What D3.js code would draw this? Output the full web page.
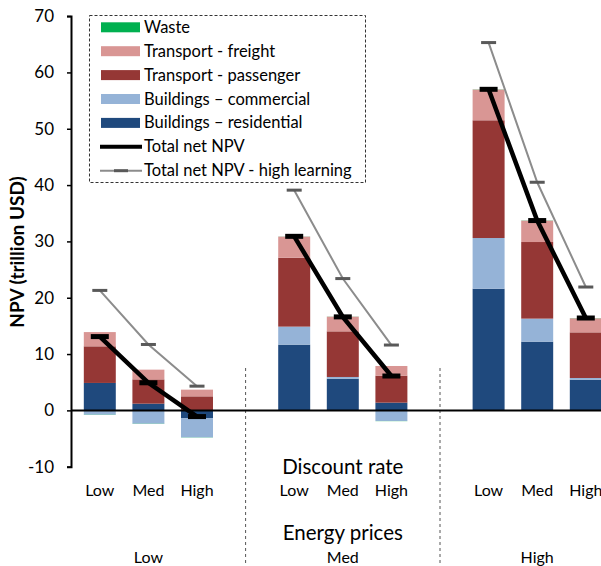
<!DOCTYPE html>
<html>
<head>
<meta charset="utf-8">
<script src="https://cdn.jsdelivr.net/npm/d3@7"></script>
<style>
  body { margin: 0; background: #fff; }
  svg { display: block; font-family: Lato, "Open Sans", sans-serif; }
</style>
</head>
<body>
<svg id="chart" width="601" height="566"></svg>
<script>
// energy price groups, discount rate inside each group
var energyPrices = ['Low', 'Med', 'High'];
var discountRates = ['Low', 'Med', 'High'];

// trillion USD, order: (energy Low: disc Low, Med, High), (energy Med: ...), (energy High: ...)
var residential = [4.87, 1.19, -1.36, 11.67, 5.63, 1.37, 21.6, 12.2, 5.45];
var commercial  = [-0.77, -2.36, -3.44, 3.2, 0.3, -1.88, 9.0, 4.09, 0.3];
var passenger   = [6.5, 4.31, 2.49, 12.23, 8.1, 4.79, 20.9, 13.6, 8.1];
var freight     = [2.53, 1.73, 1.19, 3.75, 2.61, 1.72, 5.46, 3.8, 2.49];
var waste       = [-0.03, -0.03, -0.03, 0.02, 0.02, -0.03, 0.03, 0.03, 0.03];
var totalNPV     = [13.1, 4.9, -1.1, 30.9, 16.6, 6.1, 57.0, 33.7, 16.4];
var highLearning = [21.3, 11.7, 4.3, 39.1, 23.4, 11.6, 65.3, 40.5, 21.9];

var yTicks = [-10, 0, 10, 20, 30, 40, 50, 60, 70];

var series = [
    {key: 'residential', name: 'Buildings \u2013 residential', color: '#1f497d', values: residential},
    {key: 'commercial', name: 'Buildings \u2013 commercial', color: '#95b3d7', values: commercial},
    {key: 'passenger', name: 'Transport - passenger', color: '#953735', values: passenger},
    {key: 'freight', name: 'Transport - freight', color: '#d99694', values: freight},
    {key: 'waste', name: 'Waste', color: '#00b050', values: waste}
];

var svg = d3.select('#chart');

// build rows + category slots (blank slot between energy groups)
var rows = [];
var slots = [];
energyPrices.forEach(function(e, gi){
    if(gi > 0) slots.push('gap' + gi);
    discountRates.forEach(function(d, di){
        var i = gi * discountRates.length + di;
        var row = {id: e + '|' + d, energy: e, discount: d, total: totalNPV[i], high: highLearning[i]};
        series.forEach(function(s){ row[s.key] = s.values[i]; });
        rows.push(row);
        slots.push(row.id);
    });
});

var xScale = d3.scaleBand().domain(slots).range([75.5, 610.1]).paddingInner(0.342).paddingOuter(0.171);
var yScale = d3.scaleLinear().domain([-10, 70]).range([466.7, 16.1]);
var cx = function(id){ return xScale(id) + xScale.bandwidth() / 2; };

var stacked = d3.stack()
    .keys(series.map(function(s){ return s.key; }))
    .offset(d3.stackOffsetDiverging)(rows);

// group separators
['gap1', 'gap2'].forEach(function(g){
    svg.append('line')
        .attr('x1', cx(g)).attr('x2', cx(g))
        .attr('y1', 368).attr('y2', 566)
        .attr('stroke', '#555').attr('stroke-width', 1)
        .attr('stroke-dasharray', '3,3');
});

// bars
svg.append('g').selectAll('g')
    .data(stacked)
    .enter().append('g')
    .attr('fill', function(d, i){ return series[i].color; })
    .selectAll('rect')
    .data(function(d){ return d; })
    .enter().append('rect')
    .attr('x', function(d){ return xScale(d.data.id); })
    .attr('width', xScale.bandwidth())
    .attr('y', function(d){ return yScale(Math.max(d[0], d[1])); })
    .attr('height', function(d){ return Math.abs(yScale(d[0]) - yScale(d[1])); });

// y axis
var leftAxis = d3.axisLeft(yScale).tickValues(yTicks).tickSize(4).tickPadding(13)
    .tickFormat(function(d){ return String(d); });
var yAxis = svg.append('g').attr('transform', 'translate(71,0)').call(leftAxis);
yAxis.select('.domain').attr('stroke', '#000').attr('stroke-width', 2);
yAxis.selectAll('.tick line').attr('stroke', '#000').attr('stroke-width', 1.5);
yAxis.selectAll('.tick text').attr('font-size', 17).attr('font-family', 'Lato, sans-serif').attr('fill', '#000');

// zero line
svg.append('line')
    .attr('x1', 71).attr('x2', 601)
    .attr('y1', yScale(0)).attr('y2', yScale(0))
    .attr('stroke', '#000').attr('stroke-width', 2);

svg.append('text')
    .attr('transform', 'translate(24,' + 252 + ') rotate(-90)')
    .attr('text-anchor', 'middle')
    .attr('font-size', 19).attr('font-weight', 'bold')
    .text('NPV (trillion USD)');

// total lines per energy group
var lineGen = function(key){
    return d3.line().x(function(d){ return cx(d.id); }).y(function(d){ return yScale(d[key]); });
};
energyPrices.forEach(function(e){
    var grp = rows.filter(function(r){ return r.energy === e; });
    svg.append('path').datum(grp)
        .attr('d', lineGen('high'))
        .attr('fill', 'none').attr('stroke', '#8c8c8c').attr('stroke-width', 2);
    svg.append('path').datum(grp)
        .attr('d', lineGen('total'))
        .attr('fill', 'none').attr('stroke', '#000').attr('stroke-width', 4.5);
});
svg.append('g').selectAll('rect')
    .data(rows).enter().append('rect')
    .attr('x', function(d){ return cx(d.id) - 7.5; })
    .attr('y', function(d){ return yScale(d.high) - 1.5; })
    .attr('width', 15).attr('height', 3)
    .attr('fill', '#595959');
svg.append('g').selectAll('rect')
    .data(rows).enter().append('rect')
    .attr('x', function(d){ return cx(d.id) - 9; })
    .attr('y', function(d){ return yScale(d.total) - 2.5; })
    .attr('width', 18).attr('height', 5)
    .attr('fill', '#000');

// category labels
svg.append('g').selectAll('text')
    .data(rows).enter().append('text')
    .attr('x', function(d){ return cx(d.id); })
    .attr('y', 496)
    .attr('text-anchor', 'middle').attr('font-size', 16)
    .text(function(d){ return d.discount; });

energyPrices.forEach(function(e){
    svg.append('text')
        .attr('x', cx(e + '|' + discountRates[1]))
        .attr('y', 563)
        .attr('text-anchor', 'middle').attr('font-size', 16)
        .text(e);
});
svg.append('text').attr('x', cx('Med|Med')).attr('y', 474)
    .attr('text-anchor', 'middle').attr('font-size', 20.5).text('Discount rate');
svg.append('text').attr('x', cx('Med|Med')).attr('y', 540)
    .attr('text-anchor', 'middle').attr('font-size', 20.5).text('Energy prices');

// legend
var legend = svg.append('g');
legend.append('rect')
    .attr('x', 89.5).attr('y', 15.5).attr('width', 276).attr('height', 167)
    .attr('fill', '#fff').attr('stroke', '#333').attr('stroke-width', 1)
    .attr('stroke-dasharray', '3,2');
var legendItems = series.slice().reverse().map(function(s){ return {name: s.name, color: s.color, type: 'bar'}; });
legendItems.push({name: 'Total net NPV', type: 'total'});
legendItems.push({name: 'Total net NPV - high learning', type: 'high'});
legendItems.forEach(function(item, i){
    var y = 27.3 + i * 23.9;
    if(item.type === 'bar'){
        legend.append('rect').attr('x', 101).attr('y', y - 5).attr('width', 39).attr('height', 10).attr('fill', item.color);
    } else if(item.type === 'total'){
        legend.append('line').attr('x1', 100).attr('x2', 142).attr('y1', y).attr('y2', y)
            .attr('stroke', '#000').attr('stroke-width', 4);
    } else {
        legend.append('line').attr('x1', 100).attr('x2', 142).attr('y1', y).attr('y2', y)
            .attr('stroke', '#8c8c8c').attr('stroke-width', 2);
        legend.append('rect').attr('x', 114).attr('y', y - 1.5).attr('width', 14).attr('height', 3).attr('fill', '#595959');
    }
    legend.append('text').attr('x', 144).attr('y', y + 5.5).attr('font-size', 16.5).text(item.name);
});
</script>
</body>
</html>
